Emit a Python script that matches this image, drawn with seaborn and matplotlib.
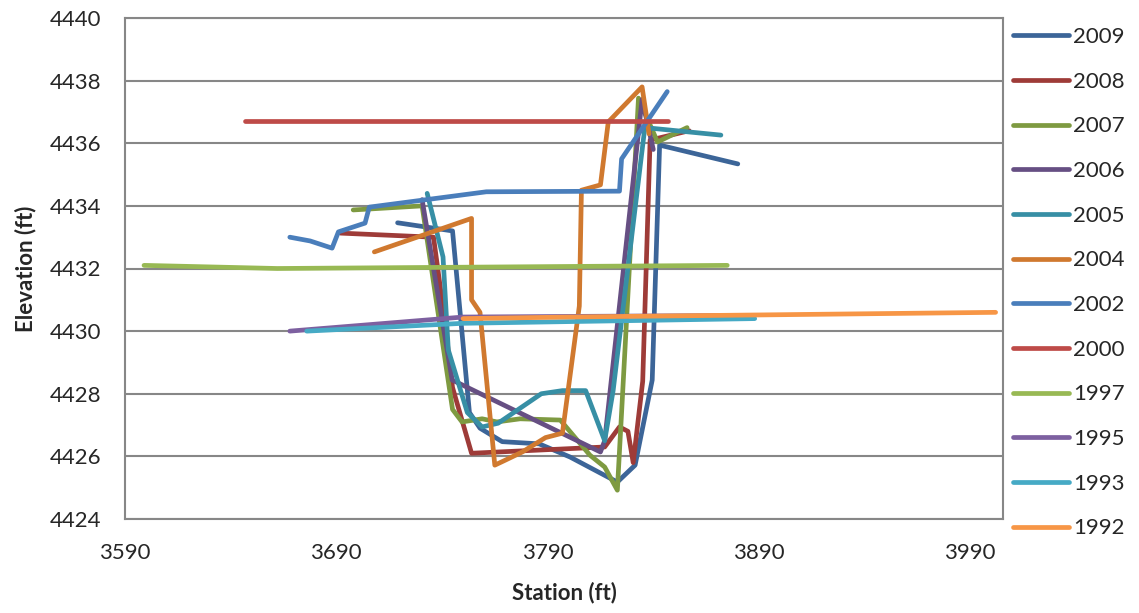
import matplotlib
matplotlib.use("Agg")
import matplotlib.pyplot as plt
import seaborn as sns
import pandas as pd
from matplotlib.lines import Line2D

years = ["2009", "2008", "2007", "2006", "2005", "2004", "2002", "2000", "1997", "1995", "1993", "1992"]
colors = ["#3C6598", "#9E3B38", "#7E9A41", "#664F83", "#378FA5", "#D0792F",
          "#4A7EBB", "#BE4B48", "#98B954", "#7D60A0", "#46AAC5", "#F79646"]

st_2009 = [3719, 3745, 3753, 3758, 3768.5, 3786, 3800.6, 3823, 3831.4, 3839.5, 3843, 3880]
el_2009 = [4433.46, 4433.2, 4427.4, 4426.9, 4426.47, 4426.4, 4425.98, 4425.18, 4425.72, 4428.44, 4435.94, 4435.34]

st_2008 = [3692, 3736, 3741, 3745, 3754, 3817, 3824, 3828, 3830.5, 3835, 3838.5, 3857]
el_2008 = [4433.13, 4433.0, 4430.5, 4428.2, 4426.1, 4426.3, 4426.94, 4426.8, 4425.8, 4428.4, 4436.1, 4436.4]

st_2007 = [3698, 3730.6, 3745, 3749.5, 3759, 3766, 3777, 3796, 3810, 3817, 3823, 3825, 3833, 3842, 3856]
el_2007 = [4433.87, 4434.0, 4427.5, 4427.1, 4427.2, 4427.1, 4427.2, 4427.16, 4426.04, 4425.66, 4424.92, 4427.4, 4437.44, 4436.04, 4436.5]

st_2006 = [3730.6, 3744.8, 3815, 3817, 3834.7, 3840]
el_2006 = [4434.2, 4428.44, 4426.14, 4426.5, 4437.4, 4435.8]

st_2005 = [3733, 3740.5, 3743, 3752, 3759, 3766.6, 3787, 3797, 3808, 3817, 3821, 3836, 3872]
el_2005 = [4434.4, 4432.37, 4429.4, 4427.4, 4426.94, 4427.06, 4428.0, 4428.1, 4428.1, 4426.5, 4428.1, 4436.5, 4436.26]

st_2004 = [3708, 3754, 3754, 3758, 3765, 3770, 3778, 3789, 3797, 3805, 3806, 3815, 3818.7, 3834.7, 3838]
el_2004 = [4432.53, 4433.6, 4431.0, 4430.6, 4425.72, 4425.88, 4426.14, 4426.6, 4426.74, 4430.8, 4434.5, 4434.67, 4436.68, 4437.8, 4436.3]

st_2002 = [3668, 3677.6, 3688, 3691, 3703.6, 3705.6, 3761, 3824, 3825, 3846.6]
el_2002 = [4433.0, 4432.88, 4432.65, 4433.17, 4433.45, 4433.96, 4434.45, 4434.47, 4435.5, 4437.65]

st_2000 = [3647, 3847]
el_2000 = [4436.7, 4436.7]

st_1997 = [3599, 3662, 3875]
el_1997 = [4432.1, 4432.0, 4432.1]

st_1995 = [3668, 3750, 3880]
el_1995 = [4430.0, 4430.45, 4430.5]

st_1993 = [3676, 3750, 3888]
el_1993 = [4430.0, 4430.25, 4430.4]

st_1992 = [3750, 3800, 4002]
el_1992 = [4430.4, 4430.45, 4430.6]

stations = [st_2009, st_2008, st_2007, st_2006, st_2005, st_2004, st_2002, st_2000, st_1997, st_1995, st_1993, st_1992]
elevs = [el_2009, el_2008, el_2007, el_2006, el_2005, el_2004, el_2002, el_2000, el_1997, el_1995, el_1993, el_1992]

x_ticks = [3590, 3690, 3790, 3890, 3990]
y_ticks = list(range(4424, 4441, 2))

rows = []
for yr, xs, ys in zip(years, stations, elevs):
    for i, (x, y) in enumerate(zip(xs, ys)):
        rows.append({"Year": yr, "Station": x, "Elevation": y, "order": i})
df = pd.DataFrame(rows)

sns.set_style("white")
plt.rcParams['font.family'] = ['Lato', 'DejaVu Sans']

fig = plt.figure(figsize=(11.39, 6.13), dpi=100)
ax = fig.add_axes([125/1139, 1 - 519/613, (1003-125)/1139, (519-18)/613])

sns.lineplot(data=df, x="Station", y="Elevation", hue="Year", hue_order=years,
             palette=dict(zip(years, colors)), sort=False, estimator=None,
             linewidth=3.4, ax=ax, legend=False,
             solid_capstyle="round", solid_joinstyle="round")

ax.set_xlim(3590, 4005.5)
ax.set_ylim(4424, 4440)
ax.set_xticks(x_ticks)
ax.set_yticks(y_ticks)
ax.tick_params(axis="y", length=0, labelsize=16, pad=17)
ax.tick_params(axis="x", length=0, labelsize=16, pad=17)
ax.yaxis.grid(True, color="#878787", linewidth=1.5)
ax.set_axisbelow(True)
for s in ax.spines.values():
    s.set_color("#878787")
    s.set_linewidth(1.5)
ax.set_xlabel("Station (ft)", fontsize=16, fontweight="bold", labelpad=14)
ax.set_ylabel("Elevation (ft)", fontsize=16, fontweight="bold", labelpad=10)

handles = [Line2D([0], [0], color=c, linewidth=3.4, solid_capstyle="round") for c in colors]
fig.legend(handles, years, loc="upper left", bbox_to_anchor=(1013/1139, 1 - 27/613),
           frameon=False, fontsize=16, handlelength=2.5, handletextpad=0.2,
           labelspacing=1.11, borderpad=0, borderaxespad=0)

fig.savefig("out.png", dpi=100)
